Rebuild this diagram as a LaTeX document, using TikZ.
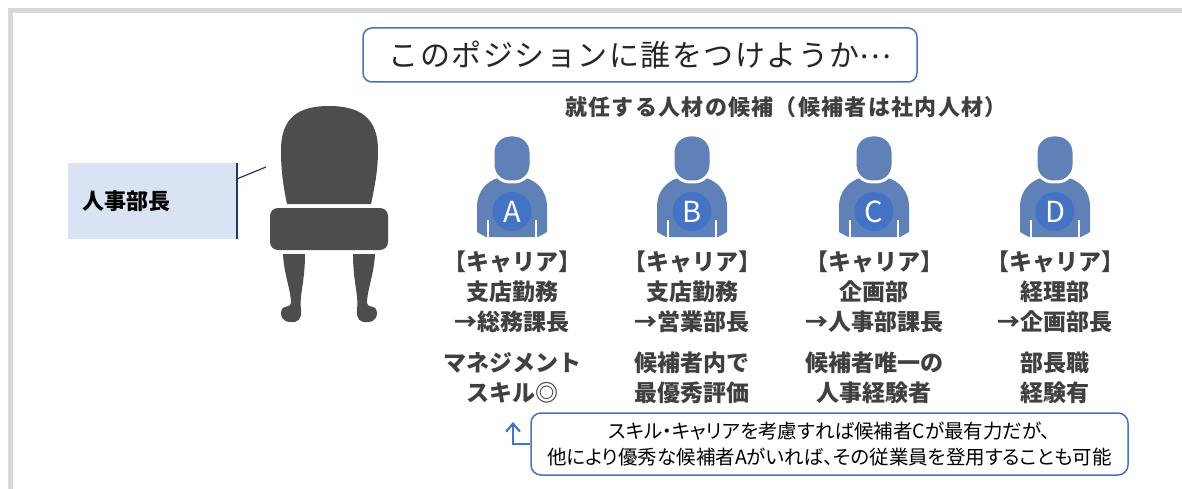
\documentclass[tikz,border=0pt]{standalone}
\usepackage{fontspec}
\setmainfont{Noto Sans CJK JP}
\usetikzlibrary{arrows.meta}

\definecolor{framegray}{HTML}{D9D9D9}
\definecolor{boxblue}{HTML}{4472C4}
\definecolor{postfill}{HTML}{DAE3F3}
\definecolor{navy}{HTML}{203864}
\definecolor{chairgray}{HTML}{4D4D4D}
\definecolor{personblue}{HTML}{6080B8}
\definecolor{textgray}{HTML}{404040}
\newcommand{\jsize}[2]{\fontsize{#1pt}{#2pt}\selectfont}

\tikzset{
  askbox/.style={draw=boxblue,line width=1.5pt,rounded corners=9pt,fill=white,
    minimum width=554pt,minimum height=54pt,inner sep=0pt,text=black!85,
    font=\jsize{30}{36}\addfontfeatures{LetterSpace=5}},
  memobox/.style={draw=boxblue,line width=1.5pt,rounded corners=10pt,fill=white,
    minimum width=597pt,minimum height=62pt,inner sep=0pt,align=center,
    font=\jsize{19.5}{26}\addfontfeatures{RawFeature=+palt}},
  post/.style={fill=postfill,minimum width=169pt,minimum height=76pt,
    text width=141pt,inner xsep=14pt,align=left,font=\bfseries\jsize{22}{26}},
  career/.style={align=center,text=textgray,inner sep=0pt,
    font=\bfseries\jsize{23}{30}},
  badge/.style={circle,fill=boxblue,minimum size=39pt,inner sep=0pt,
    text=white,font=\jsize{29}{30}},
  pointer/.style={boxblue,line width=2.2pt,-{Straight Barb[length=8pt,width=14pt]}}
}

\begin{document}
\begin{tikzpicture}[x=1pt,y=-1pt]
\useasboundingbox (0,0) rectangle (1182,489);
% frame
\draw[line width=5pt,framegray] (1182,10.5) -- (10.5,10.5) -- (10.5,489);

% question
\node[askbox] (ask) at (640,55) {このポジションに誰をつけようか\raisebox{0.28em}{…}};
\node[text=textgray,font=\bfseries\jsize{22}{26}\addfontfeatures{LetterSpace=6}]
  (pool) at (786,107) {就任する人材の候補（候補者は社内人材）};

% post label with leader line
\node[post] (post) at (152.5,201) {人事部長};
\coordinate (seat) at (266,167);
\draw[navy,line width=1.5pt] (post.north east) -- (post.south east);
\draw[navy,line width=1.2pt] ([yshift=-16pt]post.north east) -- (seat);

% chair: back, seat, legs
\fill[chairgray] (287,204) .. controls (283,185) and (281,170) .. (281,150)
  .. controls (281,118) and (298,106) .. (329,106)
  .. controls (360,106) and (378,118) .. (378,150)
  .. controls (378,170) and (375,185) .. (371,204) -- cycle;
\fill[chairgray,rounded corners=8pt] (270,208) rectangle (388,250);
\foreach \s in {1,-1}{
  \begin{scope}[shift={(329,0)},xscale=\s]
    \fill[chairgray] (-46,254) -- (-24,254) .. controls (-24,282) and (-30,296) .. (-28,310)
      .. controls (-27,319) and (-31,323) .. (-39,322)
      .. controls (-47,322) and (-50,314) .. (-47,309)
      .. controls (-44,305) and (-39,308) .. (-38,303)
      .. controls (-38,290) and (-45,275) .. (-46,254) -- cycle;
  \end{scope}
}

% candidates
\foreach \x/\l in {512/A,692/B,874/C,1055/D}{
  \begin{scope}[shift={(\x,0)}]
    \fill[personblue] (-35,232) -- (-35,207) .. controls (-35,190) and (-24,181) .. (-14,178)
      -- (14,178) .. controls (24,181) and (35,190) .. (35,207) -- (35,232)
      -- (26,237) -- (-26,237) -- cycle;
    \draw[white,line width=2pt] (-24,220) -- (-24,239) (24,220) -- (24,239);
    \filldraw[fill=personblue,draw=white,line width=3pt,rounded corners=17pt]
      (-19,135) rectangle (19,182);
    \node[badge] (badge\l) at (0,211.5) {\l};
  \end{scope}
}

\node[career] (carA) at (512,292) {【キャリア】\\支店勤務\\→総務課長};
\node[career] (carB) at (692,292) {【キャリア】\\支店勤務\\→営業部長};
\node[career] (carC) at (874,292) {【キャリア】\\企画部\\→人事部課長};
\node[career] (carD) at (1055,292) {【キャリア】\\経理部\\→企画部長};

\node[career] (noteA) at (512,378) {マネジメント\\スキル◎};
\node[career] (noteB) at (692,378) {候補者内で\\最優秀評価};
\node[career] (noteC) at (874,378) {候補者唯一の\\人事経験者};
\node[career] (noteD) at (1055,378) {部長職\\経験有};

% conclusion
\node[memobox] (memo) at (829.5,444)
  {スキル・キャリアを考慮すれば候補者Cが最有力だが、\\他により優秀な候補者Aがいれば、その従業員を登用することも可能};
\coordinate (aim) at (513,422);
\draw[pointer] (memo.west) -| (aim);
\end{tikzpicture}
\end{document}
